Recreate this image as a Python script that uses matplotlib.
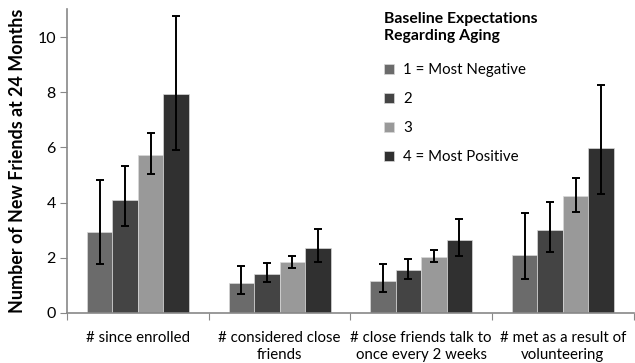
import numpy as np
import matplotlib
matplotlib.use("Agg")
import matplotlib.pyplot as plt

plt.rcParams.update({"font.family": ["Lato", "DejaVu Sans"]})

categories = [
    "# since enrolled",
    "# considered close\nfriends",
    "# close friends talk to\nonce every 2 weeks",
    "# met as a result of\nvolunteering",
]
series_names = ["1 = Most Negative", "2", "3", "4 = Most Positive"]
means = [
    [2.95, 1.07, 1.16, 2.10],
    [4.10, 1.41, 1.55, 3.00],
    [5.71, 1.85, 2.02, 4.23],
    [7.92, 2.34, 2.66, 5.98],
]
err_hi = [
    [4.82, 1.70, 1.78, 3.63],
    [5.34, 1.82, 1.97, 4.01],
    [6.51, 2.08, 2.29, 4.89],
    [10.75, 3.05, 3.41, 8.25],
]
err_lo = [
    [1.79, 0.68, 0.76, 1.23],
    [3.15, 1.11, 1.23, 2.21],
    [5.02, 1.64, 1.84, 3.67],
    [5.91, 1.84, 2.08, 4.31],
]
colors = ["#6b6b6b", "#444444", "#999999", "#303030"]

fig = plt.figure(figsize=(6.35, 3.63), dpi=100)
ax = fig.add_axes([0.1055, 0.138, 0.8925, 0.836])

x = np.arange(len(categories))
w = 0.18
for i in range(4):
    m = np.array(means[i])
    lo = m - np.array(err_lo[i])
    hi = np.array(err_hi[i]) - m
    pos = x - 1.5 * w + i * w
    ax.bar(pos, m, width=w, color=colors[i], edgecolor="#d8d8d8", linewidth=0.5,
           label=series_names[i], zorder=2)
    ax.errorbar(pos, m, yerr=[lo, hi], fmt="none", ecolor="black", elinewidth=1.4,
                capsize=3, capthick=1.4, zorder=3)

ax.set_xlim(-0.5, len(categories) - 0.5)
ax.set_ylim(0, 11)
ax.set_yticks([0, 2, 4, 6, 8, 10])
ax.tick_params(axis="y", direction="out", length=5, color="#888888", labelsize=11.5, pad=3)
ax.set_xticks(np.arange(len(categories) + 1) - 0.5, minor=False)
ax.set_xticklabels([])
ax.set_xticks(x, minor=True)
ax.set_xticklabels(categories, minor=True, fontsize=10.8, linespacing=1.3)
ax.tick_params(axis="x", which="major", direction="out", length=5, color="#888888")
ax.tick_params(axis="x", which="minor", length=0, pad=13)
for s in ["top", "right"]:
    ax.spines[s].set_visible(False)
for s in ["left", "bottom"]:
    ax.spines[s].set_color("#888888")
    ax.spines[s].set_linewidth(1.2)

ax.set_ylabel("Number of New Friends at 24 Months", fontsize=12.9, fontweight="bold", labelpad=8)

leg = ax.legend(loc="upper left", bbox_to_anchor=(0.535, 1.035), frameon=False, fontsize=10.8,
                title="Baseline Expectations\nRegarding Aging", handlelength=0.7, handleheight=0.7,
                handletextpad=0.6, labelspacing=1.0)
leg.get_title().set_fontweight("bold")
leg.get_title().set_fontsize(11.3)
leg.get_title().set_linespacing(1.2)
leg._legend_box.align = "left"
leg._legend_box.sep = 15

fig.savefig("out.png", dpi=100)
